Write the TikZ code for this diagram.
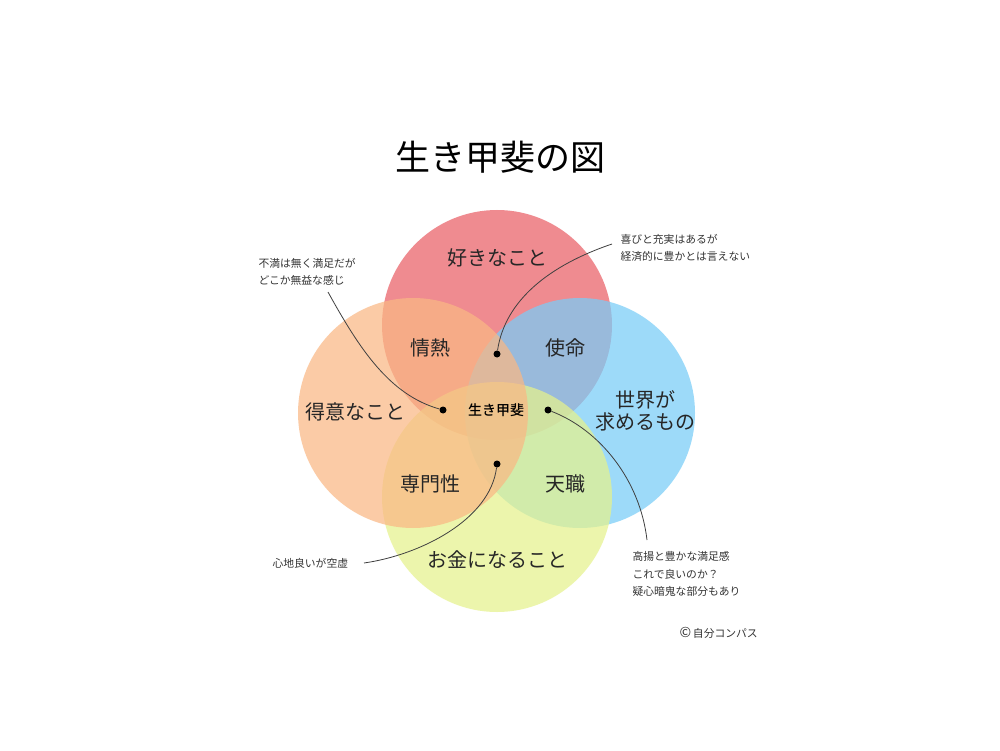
\documentclass[tikz,border=0pt]{standalone}
\usepackage{fontspec}
\setmainfont{Noto Sans CJK JP}
\newfontfamily\medfont{Noto Sans CJK JP Medium}
\begin{document}
\begin{tikzpicture}[x=1pt,y=-1pt,
  circ/.style={fill opacity=0.72,draw=none},
  big/.style={font=\fontsize{20}{23}\selectfont,text=black!85},
  small/.style={font=\fontsize{10.8}{17.5}\selectfont,align=left,text=black!80},
  dotn/.style={circle,fill=black,inner sep=0pt,minimum size=7pt},
  conn/.style={draw=black!75,line width=0.8pt}]
\useasboundingbox[fill=white] (0,0) rectangle (1000,751);
\fill[circ,fill={rgb,255:red,233;green,95;blue,102}] (497,325) circle[radius=115];
\fill[circ,fill={rgb,255:red,120;green,205;blue,248}] (580,413) circle[radius=115];
\fill[circ,fill={rgb,255:red,230;green,242;blue,140}] (497,497) circle[radius=115];
\fill[circ,fill={rgb,255:red,250;green,184;blue,132}] (413,413) circle[radius=115];

\node[font=\fontsize{35}{38}\selectfont] (title) at (500,157) {生き甲斐の図};

\node[big] (suki) at (497,258) {好きなこと};
\node[big] (jonetsu) at (430,348) {情熱};
\node[big] (shimei) at (565,348) {使命};
\node[big] (tokui) at (355,412) {得意なこと};
\node[big,align=center,font=\fontsize{20}{22}\selectfont] (sekai) at (645,411) {世界が\\求めるもの};
\node[big] (senmon) at (430,484) {専門性};
\node[big] (tenshoku) at (565,484) {天職};
\node[big] (okane) at (497,560) {お金になること};
\node[font=\fontsize{14}{16}\selectfont\medfont] (ikigai) at (496,410) {生き甲斐};

\node[dotn] (d1) at (443,410) {};
\node[dotn] (d2) at (497,354) {};
\node[dotn] (d3) at (548,410) {};
\node[dotn] (d4) at (497,464) {};

\node[small,anchor=west] (t1) at (255,272) {不満は無く満足だが\\どこか無益な感じ};
\node[small,anchor=west] (t2) at (617,248) {喜びと充実はあるが\\経済的に豊かとは言えない};
\node[small,anchor=west] (t3) at (629,574) {高揚と豊かな満足感\\これで良いのか？\\疑心暗鬼な部分もあり};
\node[small,anchor=west] (t4) at (269,563) {心地良いが空虚};
\node[small,anchor=west] (copy) at (676,633) {{\fontsize{14}{14}\selectfont ©}\,自分コンパス};

\coordinate (c1) at (328,292);
\coordinate (c2) at (612,244);
\coordinate (c3) at (647,540);
\coordinate (c4) at (364,563);
\draw[conn] (c1) .. controls (360,350) and (390,395) .. (d1);
\draw[conn] (c2) .. controls (550,265) and (505,300) .. (d2);
\draw[conn] (d3) .. controls (600,430) and (640,480) .. (c3);
\draw[conn] (d4) .. controls (490,520) and (420,555) .. (c4);
\end{tikzpicture}
\end{document}
